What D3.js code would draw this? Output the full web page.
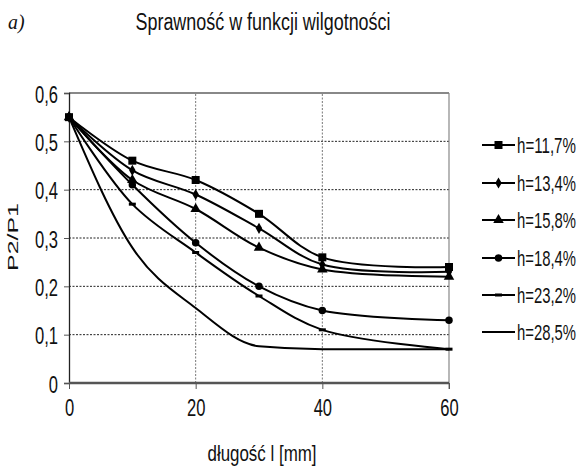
<!DOCTYPE html>
<html><head><meta charset="utf-8">
<script src="https://cdn.jsdelivr.net/npm/d3@7"></script>
<style>
body{margin:0;background:#fff;}
text{font-family:"Liberation Sans",Arial,sans-serif;fill:#111;}
</style></head>
<body><svg id="c" width="581" height="468"></svg>
<script>
const xValues = [0, 10, 20, 30, 40, 60];
const seriesNames = ["h=11,7%", "h=13,4%", "h=15,8%", "h=18,4%", "h=23,2%", "h=28,5%"];
const s117 = [0.55, 0.46, 0.42, 0.35, 0.26, 0.24];
const s134 = [0.55, 0.44, 0.39, 0.32, 0.245, 0.23];
const s158 = [0.55, 0.42, 0.36, 0.28, 0.235, 0.22];
const s184 = [0.55, 0.41, 0.29, 0.20, 0.15, 0.13];
const s232 = [0.55, 0.37, 0.27, 0.18, 0.11, 0.07];
const s285 = [0.55, 0.28, 0.155, 0.076, 0.07, 0.07];
const markerTypes = ["square", "diamond", "triangle", "circle", "dash", "none"];
const yTicks = [0, 0.1, 0.2, 0.3, 0.4, 0.5, 0.6];
const xTicks = [0, 20, 40, 60];
const allSeries = [s117, s134, s158, s184, s232, s285];

const svg = d3.select("#c");
const x = d3.scaleLinear().domain([0, 60]).range([69, 449]);
const y = d3.scaleLinear().domain([0, 0.6]).range([383, 93]);
const fmt = d => String(+d.toFixed(1)).replace(".", ",");
function condense(sel, f) {
  sel.each(function () {
    const L = this.getComputedTextLength();
    d3.select(this).attr("textLength", L * f).attr("lengthAdjust", "spacingAndGlyphs");
  });
}

// title
svg.append("text").attr("x", 263).attr("y", 30).attr("text-anchor", "middle")
  .style("font-size", "23px").text("Sprawność w funkcji wilgotności").attr("textLength", 255).attr("lengthAdjust", "spacingAndGlyphs");
svg.append("text").attr("x", 8).attr("y", 29)
  .style("font-family", "'Liberation Serif',serif").style("font-style", "italic").style("font-size", "22px").text("a)").call(condense, 0.9);

// grid
const g = svg.append("g");
g.selectAll("line.hg").data(yTicks.filter(d => d > 0 && d < 0.6)).join("line")
  .attr("x1", x(0)).attr("x2", x(60)).attr("y1", d => y(d)).attr("y2", d => y(d))
  .attr("stroke", "#222").attr("stroke-width", 1).attr("stroke-dasharray", "2,1.5");
g.selectAll("line.vg").data(xTicks.filter(d => d > 0 && d < 60)).join("line")
  .attr("x1", d => x(d)).attr("x2", d => x(d)).attr("y1", y(0)).attr("y2", y(0.6))
  .attr("stroke", "#777").attr("stroke-width", 1).attr("stroke-dasharray", "2,1.5");
// frame
g.append("line").attr("x1", x(0)).attr("x2", x(60)).attr("y1", y(0.6)).attr("y2", y(0.6)).attr("stroke", "#888").attr("stroke-width", 2);
g.append("line").attr("x1", x(60)).attr("x2", x(60)).attr("y1", y(0.6)).attr("y2", y(0) + 6).attr("stroke", "#888").attr("stroke-width", 1.2);

// axes
const yAxis = d3.axisLeft(y).tickValues(yTicks).tickFormat(fmt).tickSize(5).tickPadding(6);
const ya = svg.append("g").attr("transform", `translate(${x(0)},0)`).call(yAxis);
ya.select(".domain").attr("stroke", "#222").attr("stroke-width", 1.3);
ya.selectAll(".tick line").attr("stroke", "#555");
ya.selectAll(".tick text").style("font-size", "23px").style("font-family", "'Liberation Sans',Arial,sans-serif")
  .attr("fill", "#111").attr("dy", "0.4em").call(condense, 0.72);

const xAxis = d3.axisBottom(x).tickValues(xTicks).tickFormat(d => d).tickSize(6).tickPadding(11);
const xa = svg.append("g").attr("transform", `translate(0,${y(0)})`).call(xAxis);
xa.select(".domain").attr("stroke", "#555").attr("stroke-width", 2.5).attr("d", `M${x(0)},0H${x(60)}`);
xa.selectAll(".tick line").attr("stroke", "#555");
xa.selectAll(".tick text").style("font-size", "23px").style("font-family", "'Liberation Sans',Arial,sans-serif")
  .attr("fill", "#111").call(condense, 0.72);

svg.append("text").attr("transform", "translate(13,237) rotate(-90) scale(1,0.7)").attr("text-anchor", "middle")
  .attr("dy", "0.35em").style("font-size", "21px").text("P2/P1").attr("textLength", 68).attr("lengthAdjust", "spacingAndGlyphs");
svg.append("text").attr("x", 262).attr("y", 461).attr("text-anchor", "middle")
  .style("font-size", "22px").text("długość l [mm]").attr("textLength", 109).attr("lengthAdjust", "spacingAndGlyphs");

// lines
const lineCR = d3.line().x((d, i) => x(xValues[i])).y(d => y(d)).curve(d3.curveCatmullRom.alpha(0.5));
const lineMono = d3.line().x((d, i) => x(xValues[i])).y(d => y(d)).curve(d3.curveMonotoneX);
const sym = {
  square: d3.symbol().type(d3.symbolSquare).size(64),
  diamond: d3.symbol().type(d3.symbolDiamond).size(36),
  triangle: d3.symbol().type(d3.symbolTriangle).size(48),
  circle: d3.symbol().type(d3.symbolCircle).size(44),
};
function drawMarker(sel, type, cx, cy) {
  if (type === "none") return;
  if (type === "dash") {
    sel.append("rect").attr("x", cx - 3.5).attr("y", cy - 1.5).attr("width", 7).attr("height", 3).attr("fill", "#000");
    return;
  }
  sel.append("path").attr("d", sym[type]()).attr("transform", `translate(${cx},${cy})`).attr("fill", "#000");
}
const plot = svg.append("g");
allSeries.forEach((s, k) => {
  const ln = markerTypes[k] === "none" ? lineMono : lineCR;
  plot.append("path").attr("d", ln(s)).attr("fill", "none").attr("stroke", "#000").attr("stroke-width", 2);
  s.forEach((v, i) => drawMarker(plot, markerTypes[k], x(xValues[i]), y(v)));
});

// legend
const legY = [145, 183, 220, 258, 295, 332];
const leg = svg.append("g");
seriesNames.forEach((n, k) => {
  leg.append("line").attr("x1", 482).attr("x2", 515).attr("y1", legY[k]).attr("y2", legY[k]).attr("stroke", "#000").attr("stroke-width", 2);
  drawMarker(leg, markerTypes[k], 498.5, legY[k]);
  const t = leg.append("text").attr("x", 0).attr("y", 0).style("font-size", "22px").text(n);
  const L = t.node().getComputedTextLength();
  t.attr("transform", `translate(517,${legY[k] + 8}) scale(${59 / L},1)`);
});
</script></body></html>
